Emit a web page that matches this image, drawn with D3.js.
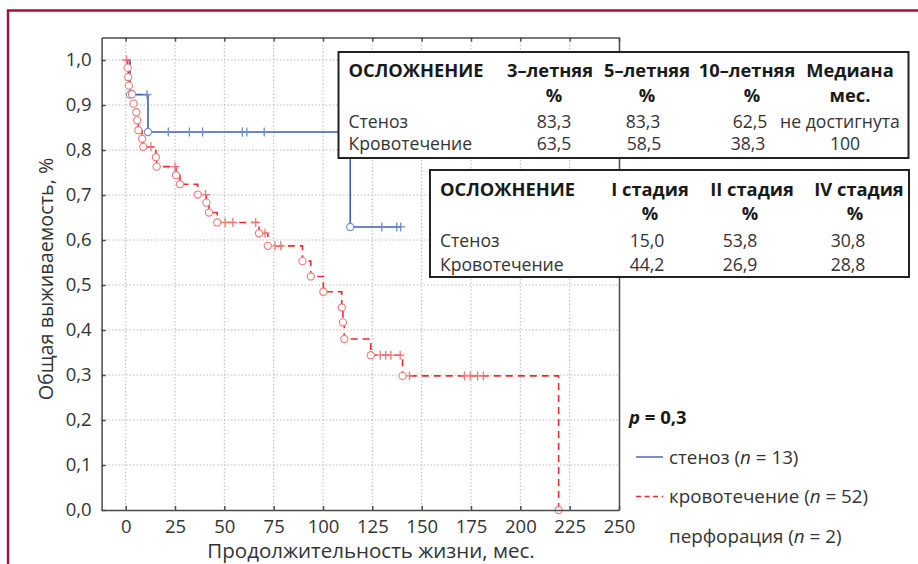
<!DOCTYPE html>
<html>
<head>
<meta charset="utf-8">
<script src="https://cdn.jsdelivr.net/npm/d3@7"></script>
<style>
  html, body { margin: 0; padding: 0; background: #fff; }
  svg { display: block; font-family: 'Open Sans', sans-serif; }
  .grid line { stroke: #b8b8b8; stroke-dasharray: 1.5,2; stroke-width: 1; }
  .axis path, .axis line { stroke: #4a4a4a; stroke-width: 1.5; }
  .axis text { fill: #333; font-size: 18.5px; font-family: 'Open Sans', sans-serif; }
</style>
</head>
<body>
<div id="chart"></div>
<script>
// --- data ---
const xTicks = [0, 25, 50, 75, 100, 125, 150, 175, 200, 225, 250];
const yTicks = [0, 0.1, 0.2, 0.3, 0.4, 0.5, 0.6, 0.7, 0.8, 0.9, 1.0];

// стеноз: event times (months) and survival after each event
const stenosisTimes = [2.2, 11.3, 113.8];
const stenosisSurv = [0.923, 0.840, 0.629];
const stenosisCensored = [10.8, 21.6, 32.3, 39.0, 59.1, 61.4, 70.2, 129.8, 137.4, 139.4];
const stenosisEnd = 139.4;

// кровотечение
const bleedTimes = [1.0, 1.3, 1.6, 3.2, 4.0, 5.4, 5.8, 6.4, 8.3, 8.9, 15.3, 15.7, 25.5, 27.5,
  36.5, 40.9, 42.2, 46.4, 67.6, 72.0, 89.6, 93.8, 100.2, 109.5, 110.1, 110.8, 124.2, 140.3, 219.4];
const bleedSurv = [0.983, 0.962, 0.943, 0.924, 0.903, 0.884, 0.866, 0.844, 0.825, 0.807, 0.784, 0.763,
  0.744, 0.724, 0.701, 0.683, 0.661, 0.639, 0.615, 0.587, 0.553, 0.519, 0.485, 0.450, 0.417, 0.380,
  0.344, 0.298, 0.0];
const bleedCensored = [0.5, 12.8, 25.0, 40.5, 50.4, 54.3, 65.9, 70.6, 75.7, 78.6, 129.0, 131.8,
  134.4, 139.1, 143.8, 171.7, 174.6, 178.3, 181.3];

const table1Head = ['ОСЛОЖНЕНИЕ', '3–летняя', '5–летняя', '10–летняя', 'Медиана'];
const table1Sub = ['', '%', '%', '%', 'мес.'];
const table1Rows = [
  ['Стеноз', '83,3', '83,3', '62,5', 'не достигнута'],
  ['Кровотечение', '63,5', '58,5', '38,3', '100'],
];
const table2Head = ['ОСЛОЖНЕНИЕ', 'I стадия', 'II стадия', 'IV стадия'];
const table2Sub = ['', '%', '%', '%'];
const table2Rows = [
  ['Стеноз', '15,0', '53,8', '30,8'],
  ['Кровотечение', '44,2', '26,9', '28,8'],
];

const legendItems = [
  { label: 'стеноз', n: '13', color: '#3d5fae', dash: null },
  { label: 'кровотечение', n: '52', color: '#ee2a2a', dash: '5,3.5' },
  { label: 'перфорация', n: '2', color: null, dash: null },
];

// --- layout ---
const W = 918, H = 564;
const PLOT = { left: 101.6, right: 619, top: 37.5, bottom: 510 };
const COLORS = {
  frame: '#a50f40',
  blue: '#3d5fae', blueMark: '#6f8bcb',
  red: '#ee2a2a', redMark: '#f37878',
};

const svg = d3.select('#chart').append('svg')
  .attr('width', W).attr('height', H);

// crimson frame (top + left edges)
svg.append('path')
  .attr('d', `M8,${H} V10.5 H${W}`)
  .attr('fill', 'none')
  .attr('stroke', COLORS.frame)
  .attr('stroke-width', 2.4);

const x = d3.scaleLinear().domain([-12.2, 250]).range([PLOT.left, PLOT.right]);
const y = d3.scaleLinear().domain([0, 1.05]).range([PLOT.bottom, PLOT.top]);

const commaFmt = (f) => (d) => f(d).replace('.', ',');

// grid
const grid = svg.append('g').attr('class', 'grid');
grid.selectAll('.gx').data(xTicks.filter((d) => d < 250)).join('line')
  .attr('x1', (d) => x(d)).attr('x2', (d) => x(d))
  .attr('y1', PLOT.top).attr('y2', PLOT.bottom);
grid.selectAll('.gy').data(yTicks.filter((d) => d > 0)).join('line')
  .attr('x1', PLOT.left).attr('x2', PLOT.right)
  .attr('y1', (d) => y(d)).attr('y2', (d) => y(d));

// survival curves
function stepPoints(times, surv, end) {
  const pts = [[0, 1]];
  times.forEach((t, i) => pts.push([t, surv[i]]));
  if (end != null && end > times[times.length - 1]) pts.push([end, surv[surv.length - 1]]);
  return pts;
}
function survAt(times, surv, t) {
  let s = 1;
  times.forEach((tt, i) => { if (tt <= t) s = surv[i]; });
  return s;
}
const stepLine = d3.line().x((d) => x(d[0])).y((d) => y(d[1])).curve(d3.curveStepAfter);

function drawCurve(times, surv, censored, end, color, markColor, dash) {
  const g = svg.append('g');
  g.append('path')
    .datum(stepPoints(times, surv, end))
    .attr('fill', 'none')
    .attr('stroke', color)
    .attr('stroke-width', 1.6)
    .attr('stroke-dasharray', dash)
    .attr('d', stepLine);
  g.selectAll('.cens').data(censored).join('path')
    .attr('fill', 'none')
    .attr('stroke', markColor)
    .attr('stroke-width', 1.3)
    .attr('d', (t) => {
      const cx = x(t), cy = y(survAt(times, surv, t));
      return `M${cx - 4.5},${cy}h9M${cx},${cy - 4.5}v9`;
    });
  g.selectAll('.ev').data(times).join('circle')
    .attr('cx', (t) => x(t))
    .attr('cy', (t, i) => y(surv[i]))
    .attr('r', 3.6)
    .attr('fill', '#fff')
    .attr('stroke', markColor)
    .attr('stroke-width', 1.1);
}

drawCurve(stenosisTimes, stenosisSurv, stenosisCensored, stenosisEnd, COLORS.blue, COLORS.blueMark, null);
drawCurve(bleedTimes, bleedSurv, bleedCensored, null, COLORS.red, COLORS.redMark, '7,5');

// axes
svg.append('g').attr('class', 'axis')
  .attr('transform', `translate(0,${PLOT.bottom})`)
  .call(d3.axisBottom(x).tickValues(xTicks).tickSize(-4).tickSizeOuter(0).tickPadding(10).tickFormat(d3.format('d')));
svg.append('g').attr('class', 'axis')
  .attr('transform', `translate(0,${PLOT.top})`)
  .call(d3.axisTop(x).tickValues(xTicks).tickSize(-4).tickSizeOuter(0).tickFormat(''));
svg.append('g').attr('class', 'axis')
  .attr('transform', `translate(${PLOT.left},0)`)
  .call(d3.axisLeft(y).tickValues(yTicks).tickSize(-4).tickSizeOuter(0).tickPadding(10).tickFormat(commaFmt(d3.format('.1f'))));
svg.append('g').attr('class', 'axis')
  .attr('transform', `translate(${PLOT.right},0)`)
  .call(d3.axisRight(y).tickValues([]).tickSizeOuter(0));

svg.append('text')
  .attr('x', 371).attr('y', 558)
  .attr('text-anchor', 'middle')
  .attr('font-size', 20.5).attr('fill', '#333')
  .text('Продолжительность жизни, мес.');
svg.append('text')
  .attr('transform', 'translate(53,279) rotate(-90)')
  .attr('text-anchor', 'middle')
  .attr('font-size', 19.8).attr('fill', '#333')
  .text('Общая выживаемость, %');

// tables
function drawTable(box, head, sub, rows, headX, subX, valX, rowY) {
  const g = svg.append('g');
  g.append('rect')
    .attr('x', box.x).attr('y', box.y).attr('width', box.w).attr('height', box.h)
    .attr('fill', '#fff').attr('stroke', '#222').attr('stroke-width', 2);
  const txt = (s, tx, ty, anchor, bold) => g.append('text')
    .attr('x', tx).attr('y', ty).attr('text-anchor', anchor)
    .attr('font-size', bold ? 18.3 : 17.6).attr('font-weight', bold ? 700 : 400)
    .attr('fill', bold ? '#1a1a1a' : '#333').text(s);
  head.forEach((h, i) => txt(h, i === 0 ? box.x + 10 : headX[i - 1], box.y + rowY[0], i === 0 ? 'start' : 'middle', true));
  sub.forEach((h, i) => { if (h) txt(h, subX[i - 1], box.y + rowY[1], 'middle', true); });
  rows.forEach((r, ri) => r.forEach((v, i) =>
    txt(v, i === 0 ? box.x + 10 : valX[ri][i - 1], box.y + rowY[2 + ri], i === 0 ? 'start' : 'middle', false)));
}

drawTable({ x: 338.5, y: 52, w: 570, h: 106 }, table1Head, table1Sub, table1Rows,
  [550, 647, 747, 850], [554, 647, 752, 850],
  [[554, 643, 750, 840], [554, 644, 748, 845]], [25, 49.5, 75.5, 97.5]);
drawTable({ x: 430, y: 170, w: 479, h: 107 }, table2Head, table2Sub, table2Rows,
  [650, 752, 859], [650, 750, 855],
  [[647, 740, 848], [647, 740, 848]], [25.5, 50, 77, 101]);

// legend
const leg = svg.append('g');
const pText = leg.append('text').attr('x', 629).attr('y', 424)
  .attr('font-size', 18.5).attr('font-weight', 700).attr('fill', '#1a1a1a');
pText.append('tspan').attr('font-style', 'italic').text('p');
pText.append('tspan').text(' = 0,3');

legendItems.forEach((item, i) => {
  const ly = 457 + i * 39.5;
  if (item.color) {
    leg.append('line')
      .attr('x1', 636).attr('x2', 663).attr('y1', ly).attr('y2', ly)
      .attr('stroke', item.color).attr('stroke-width', 1.4)
      .attr('stroke-dasharray', item.dash);
  }
  const t = leg.append('text').attr('x', 669).attr('y', ly + 6.5)
    .attr('font-size', 18.8).attr('fill', '#333');
  t.append('tspan').text(`${item.label} (`);
  t.append('tspan').attr('font-style', 'italic').text('n');
  t.append('tspan').text(` = ${item.n})`);
});
</script>
</body>
</html>
